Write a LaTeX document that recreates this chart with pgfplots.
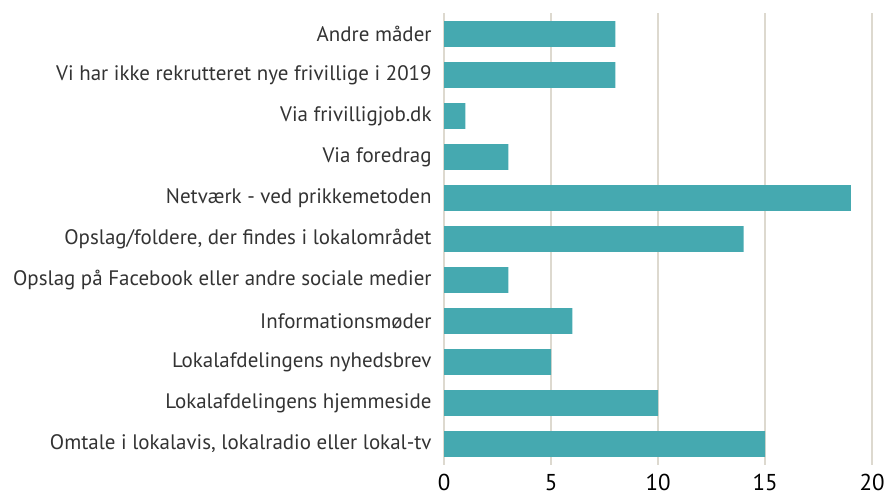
\documentclass[border=0pt]{standalone}
\usepackage{fontspec}
\setmainfont{PT Sans}
\usepackage{pgfplots}
\pgfplotsset{compat=1.18}
\definecolor{bar}{HTML}{45A9B0}
\definecolor{grid}{HTML}{DDD9CF}
\definecolor{txt}{HTML}{333333}
\begin{document}
\begin{tikzpicture}
\begin{axis}[
  at={(0pt,0pt)}, anchor=south west,
  scale only axis, width=429pt, height=452pt,
  xmin=0, xmax=20, ymin=-0.5, ymax=10.5, y dir=reverse,
  xtick={0,5,10,15,20},
  ytick={0,...,10},
  yticklabels={Andre måder,Vi har ikke rekrutteret nye frivillige i 2019,Via frivilligjob.dk,Via foredrag,Netværk - ved prikkemetoden,{Opslag/foldere, der findes i lokalområdet},Opslag på Facebook eller andre sociale medier,Informationsmøder,Lokalafdelingens nyhedsbrev,Lokalafdelingens hjemmeside,{Omtale i lokalavis, lokalradio eller lokal-tv}},
  axis line style={draw=none},
  major tick length=0pt,
  xmajorgrids, grid style={draw=grid, line width=1.6pt},
  yticklabel style={font=\fontsize{21}{24}\selectfont, text=txt, xshift=-9pt},
  xticklabel style={font=\fontsize{23}{26}\selectfont, text=black, yshift=-6pt},
  /pgf/number format/assume math mode=true,
  xbar, bar width=26pt,
]
\addplot[fill=bar, draw=none] coordinates {(8,0) (8,1) (1,2) (3,3) (19,4) (14,5) (3,6) (6,7) (5,8) (10,9) (15,10)};
\end{axis}
\useasboundingbox (-445pt,-34.5pt) rectangle (443pt,465.5pt);
\end{tikzpicture}
\end{document}
